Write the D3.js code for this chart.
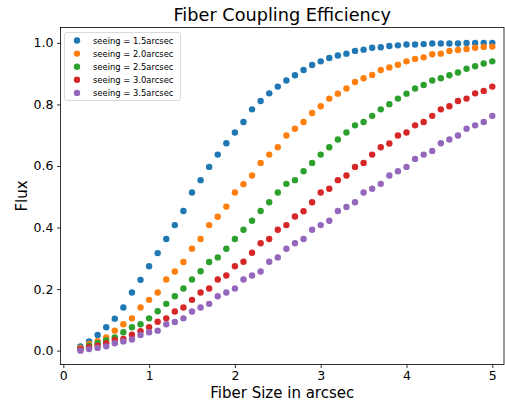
<!DOCTYPE html>
<html>
<head>
<meta charset="utf-8">
<script src="https://cdn.jsdelivr.net/npm/d3@7/dist/d3.min.js"></script>
<style>
  body { margin: 0; background: #fff; }
  svg { font-family: "DejaVu Sans", sans-serif; }
</style>
</head>
<body>
<script>
// fiber sizes 0.2 .. 5.0
const fiberSize = [0.2,0.3,0.4,0.5,0.6,0.7,0.8,0.9,1.0,1.1,1.2,1.3,1.4,1.5,1.6,1.7,1.8,1.9,2.0,
  2.1,2.2,2.3,2.4,2.5,2.6,2.7,2.8,2.9,3.0,3.1,3.2,3.3,3.4,3.5,3.6,3.7,3.8,3.9,4.0,
  4.1,4.2,4.3,4.4,4.5,4.6,4.7,4.8,4.9,5.0];

const seeing15 = [0.014,0.030,0.051,0.076,0.104,0.140,0.189,0.230,0.274,0.317,0.363,0.408,0.454,0.514,0.554,0.597,0.637,0.674,0.709,
  0.743,0.784,0.811,0.836,0.858,0.878,0.895,0.912,0.928,0.940,0.951,0.959,0.965,0.974,0.978,0.984,0.986,0.990,0.992,0.995,
  0.995,0.996,0.998,0.998,0.998,0.998,1.000,1.000,1.000,1.000];
const seeing20 = [0.009,0.022,0.031,0.043,0.065,0.086,0.105,0.140,0.165,0.189,0.231,0.257,0.288,0.331,0.363,0.408,0.435,0.468,0.514,
  0.541,0.569,0.610,0.637,0.661,0.699,0.721,0.743,0.772,0.794,0.819,0.835,0.852,0.873,0.885,0.896,0.912,0.920,0.929,0.940,
  0.948,0.953,0.963,0.965,0.974,0.977,0.980,0.984,0.987,0.988];
const seeing25 = [0.005,0.016,0.024,0.033,0.043,0.060,0.076,0.086,0.105,0.128,0.152,0.177,0.202,0.231,0.258,0.288,0.303,0.331,0.363,
  0.393,0.422,0.454,0.482,0.514,0.542,0.554,0.583,0.610,0.637,0.661,0.686,0.709,0.732,0.743,0.763,0.784,0.801,0.819,0.835,
  0.852,0.863,0.878,0.885,0.895,0.904,0.916,0.924,0.933,0.940];
const seeing30 = [0.005,0.011,0.016,0.024,0.035,0.038,0.052,0.063,0.076,0.094,0.105,0.127,0.140,0.165,0.189,0.202,0.231,0.244,0.274,
  0.289,0.318,0.349,0.363,0.393,0.408,0.436,0.453,0.482,0.514,0.526,0.554,0.569,0.597,0.610,0.637,0.661,0.673,0.699,0.709,
  0.732,0.743,0.763,0.784,0.794,0.811,0.819,0.836,0.844,0.858];
const seeing35 = [0.000,0.005,0.009,0.014,0.024,0.030,0.036,0.051,0.060,0.065,0.086,0.093,0.105,0.127,0.140,0.152,0.177,0.189,0.202,
  0.231,0.244,0.257,0.289,0.303,0.331,0.349,0.363,0.393,0.408,0.422,0.454,0.467,0.482,0.514,0.526,0.542,0.569,0.583,0.597,
  0.623,0.637,0.649,0.674,0.686,0.699,0.721,0.732,0.743,0.763];

const seriesLabels = ['seeing = 1.5arcsec','seeing = 2.0arcsec','seeing = 2.5arcsec','seeing = 3.0arcsec','seeing = 3.5arcsec'];
const seriesValues = [seeing15, seeing20, seeing25, seeing30, seeing35];
const colors = ['#1f77b4','#ff7f0e','#2ca02c','#d62728','#9467bd'];
const xTicks = [0,1,2,3,4,5];
const yTicks = [0,0.2,0.4,0.6,0.8,1.0];

const W = 505, H = 402;
const plot = { left: 60.5, right: 504, top: 27.5, bottom: 364.5 };

const svg = d3.select('body').append('svg')
  .attr('width', W).attr('height', H);

// x: 0 at 63.3, 5 at 492.3
const x = d3.scaleLinear().domain([0, 5]).range([63.3, 492.3]);
const y = d3.scaleLinear().domain([-0.045, 1.05]).range([plot.bottom, plot.top]);

// points
seriesValues.forEach(function(vals, i) {
  svg.append('g')
    .selectAll('circle')
    .data(vals)
    .enter().append('circle')
    .attr('cx', function(d, j) { return x(fiberSize[j]); })
    .attr('cy', function(d) { return y(d); })
    .attr('r', 3.2)
    .attr('fill', colors[i]);
});

// frame
svg.append('rect')
  .attr('x', plot.left).attr('y', plot.top)
  .attr('width', plot.right - plot.left).attr('height', plot.bottom - plot.top)
  .attr('fill', 'none').attr('stroke', '#000').attr('stroke-width', 0.8);

// axes
const xAxis = d3.axisBottom(x).tickValues(xTicks).tickFormat(d3.format('d')).tickSize(3.5).tickPadding(3.5);
const yAxis = d3.axisLeft(y).tickValues(yTicks).tickFormat(d3.format('.1f')).tickSize(3.5).tickPadding(3.5);

const gx = svg.append('g')
  .attr('transform', 'translate(0,' + plot.bottom + ')')
  .call(xAxis);
const gy = svg.append('g')
  .attr('transform', 'translate(' + plot.left + ',0)')
  .call(yAxis);

[gx, gy].forEach(function(g) {
  g.select('.domain').remove();
  g.selectAll('.tick line').attr('stroke', '#000').attr('stroke-width', 0.8);
  g.selectAll('.tick text')
    .attr('fill', '#000')
    .style('font-family', '"DejaVu Sans", sans-serif')
    .style('font-size', '12.5px');
});

// title and labels
svg.append('text')
  .attr('x', (plot.left + plot.right) / 2).attr('y', 21)
  .attr('text-anchor', 'middle')
  .style('font-size', '17.7px')
  .text('Fiber Coupling Efficiency');

svg.append('text')
  .attr('x', (plot.left + plot.right) / 2).attr('y', 398)
  .attr('text-anchor', 'middle')
  .style('font-size', '15px')
  .text('Fiber Size in arcsec');

svg.append('text')
  .attr('transform', 'translate(27,' + ((plot.top + plot.bottom) / 2) + ') rotate(-90)')
  .attr('text-anchor', 'middle')
  .style('font-size', '15px')
  .text('Flux');

// legend
const legend = svg.append('g');
legend.append('rect')
  .attr('x', 64.5).attr('y', 32.5)
  .attr('width', 116).attr('height', 68)
  .attr('rx', 2)
  .attr('fill', '#fff').attr('fill-opacity', 0.8)
  .attr('stroke', '#d0d0d0').attr('stroke-width', 0.8);

const items = legend.selectAll('g.item')
  .data(seriesLabels)
  .enter().append('g')
  .attr('class', 'item')
  .attr('transform', function(d, i) { return 'translate(0,' + (40.5 + i * 13.1) + ')'; });

items.append('circle')
  .attr('cx', 77).attr('cy', 0).attr('r', 3.2)
  .attr('fill', function(d, i) { return colors[i]; });

items.append('text')
  .attr('x', 93).attr('y', 3.2)
  .style('font-size', '8.4px')
  .attr('fill', '#000')
  .text(function(d) { return d; });
</script>
</body>
</html>
